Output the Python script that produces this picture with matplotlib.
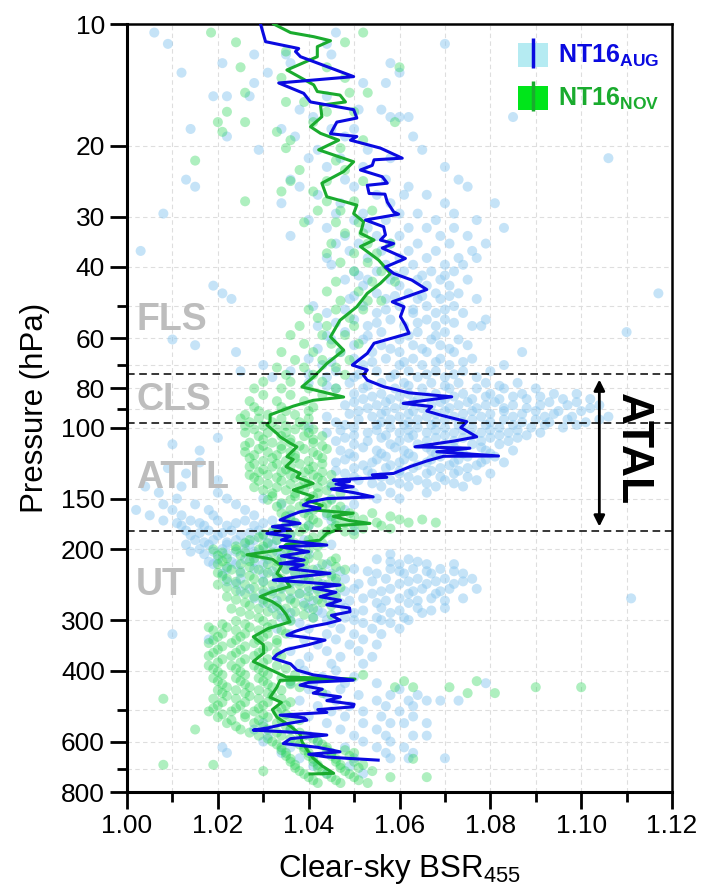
import matplotlib
matplotlib.use("Agg")
import matplotlib.pyplot as plt
from matplotlib.patches import Patch
from matplotlib.lines import Line2D
from matplotlib.legend_handler import HandlerTuple
from matplotlib.ticker import NullFormatter, FormatStrFormatter

plt.rcParams['font.family'] = ['Liberation Sans', 'DejaVu Sans']
plt.rcParams['mathtext.fontset'] = 'custom'
plt.rcParams['mathtext.rm'] = 'Liberation Sans'
plt.rcParams['mathtext.bf'] = 'Liberation Sans:bold'

# ---- mean profiles (pressure hPa, BSR) ----
aug_p = [10.0, 11.06, 11.5, 11.7, 12.05, 13.5, 14.0, 14.85, 15.6, 16.3, 17.1, 17.5, 18.7, 19.0, 19.4,
         20.3, 21.5, 21.7, 22.4, 23.0, 23.9, 24.8, 25.1, 26.3, 26.4, 27.6, 29.2, 29.6, 30.6, 31.8,
         33.3, 34.3, 35.0, 35.9, 38.1, 40.0, 41.5, 43.1, 45.5, 48.8, 50.2, 53.1, 55.7, 58.4, 61.8,
         65.5, 70, 72, 74, 76.3, 79.2, 82, 83.9, 87.1, 88.7, 91, 93.1, 96.7, 100, 105.4, 108,
         111.6, 112.5, 114.8, 117.6, 117.8, 121, 125, 129.9, 131, 132.8, 134, 135, 136, 138, 140.2,
         142, 145, 148.5, 150, 153, 155.6, 158.5, 161.7, 165, 169.4, 172.8, 176, 179, 182.9, 186,
         190, 195.5, 197.4, 203, 208, 213, 217.2, 219, 224, 229.8, 234, 238.8, 242, 245.6, 250,
         256, 262.5, 268, 275, 280, 286, 292, 300, 306, 312, 320, 326.6, 336.3, 345, 355, 365,
         373.2, 385, 399, 410, 422.7, 428, 434.8, 445, 455, 465, 475, 485, 492, 500, 508, 516,
         524, 531, 545, 555, 562, 570, 578, 590, 606.8, 620, 636, 645, 655, 660, 667]
aug_x = [1.0294, 1.0305, 1.0378, 1.0371, 1.0382, 1.0499, 1.0334, 1.0389, 1.0404, 1.0499, 1.0506, 1.0462,
         1.0448, 1.0506, 1.0492, 1.0558, 1.0606, 1.0544, 1.054, 1.0514, 1.0562, 1.0573, 1.0529, 1.0533,
         1.0568, 1.0573, 1.0587, 1.0598, 1.0525, 1.0565, 1.0569, 1.0558, 1.0587, 1.0562, 1.0613, 1.0569,
         1.0587, 1.0627, 1.066, 1.0584, 1.061, 1.0602, 1.0613, 1.0621, 1.0544, 1.0529, 1.0496, 1.0529,
         1.052, 1.0529, 1.0565, 1.062, 1.0715, 1.0608, 1.0671, 1.066, 1.069, 1.0748, 1.0735, 1.077,
         1.072, 1.0634, 1.0755, 1.0682, 1.0818, 1.0697, 1.066, 1.0623, 1.0587, 1.054, 1.0572, 1.050,
         1.0454, 1.049, 1.046, 1.0498, 1.045, 1.050, 1.0542, 1.044, 1.040, 1.0388, 1.0425, 1.0381,
         1.036, 1.0337, 1.0381, 1.032, 1.036, 1.0308, 1.036, 1.034, 1.0440, 1.0337, 1.040, 1.034,
         1.039, 1.0337, 1.0388, 1.036, 1.0447, 1.038, 1.0322, 1.040, 1.0469, 1.041, 1.046, 1.0425,
         1.047, 1.044, 1.049, 1.0491, 1.045, 1.0469, 1.044, 1.040, 1.037, 1.0352, 1.0436, 1.040,
         1.035, 1.033, 1.0322, 1.036, 1.0374, 1.041, 1.0498, 1.040, 1.0381, 1.043, 1.041, 1.047,
         1.044, 1.050, 1.0498, 1.042, 1.044, 1.0337, 1.039, 1.0396, 1.034, 1.031, 1.0278, 1.038,
         1.044, 1.036, 1.0344, 1.042, 1.0469, 1.040, 1.044, 1.0484, 1.0553]

nov_p = [10.0, 10.5, 10.75, 11.0, 11.38, 12.05, 13.0, 14.15, 14.7, 15.0, 15.6, 15.9, 16.97, 17.97, 18.66,
         19.4, 20.5, 21.95, 23.2, 24.8, 26.8, 28.1, 29.5, 30.9, 33.0, 34.3, 35.6, 38.45, 41.5, 43.9,
         46.5, 50.2, 54.2, 59.6, 64.3, 69.4, 74.9, 79.3, 84, 85.6, 88.5, 93.0, 96.7, 98.5, 103.4,
         105.4, 109.3, 111.6, 118, 120, 125, 129.9, 132.8, 137.5, 142.8, 148.2, 151.4, 156, 160, 163,
         166, 170, 172.8, 175, 178, 183, 190, 195, 201, 206.6, 212, 220, 230, 240, 247.5, 255,
         262.5, 270, 278, 290, 303, 315, 330, 345, 362, 380, 400, 415, 420, 423, 440, 466, 480,
         500, 522, 550, 575, 600, 628, 660, 690, 719, 722]
nov_x = [1.0323, 1.036, 1.0411, 1.0448, 1.0419, 1.0419, 1.0352, 1.0411, 1.0419, 1.0469, 1.0481, 1.0426,
         1.0429, 1.0404, 1.0426, 1.0466, 1.0422, 1.0499, 1.0477, 1.0429, 1.044, 1.0506, 1.0499, 1.0521,
         1.0514, 1.0544, 1.0514, 1.0554, 1.058, 1.0558, 1.0529, 1.0506, 1.0469, 1.0448, 1.0477, 1.044,
         1.0411, 1.0385, 1.0477, 1.041, 1.0366, 1.0315, 1.0315, 1.0308, 1.033, 1.0337, 1.0359, 1.0374,
         1.0352, 1.0366, 1.035, 1.0381, 1.0374, 1.041, 1.0366, 1.041, 1.0396, 1.043, 1.041, 1.0498,
         1.0454, 1.049, 1.0535, 1.046, 1.0469, 1.044, 1.0425, 1.035, 1.0337, 1.0264, 1.032, 1.034,
         1.033, 1.035, 1.0359, 1.032, 1.0293, 1.032, 1.0337, 1.035, 1.0359, 1.031, 1.0278, 1.030,
         1.0301, 1.0278, 1.032, 1.035, 1.0502, 1.0337, 1.033, 1.0315, 1.034, 1.032, 1.033, 1.036,
         1.0381, 1.0385, 1.0396, 1.041, 1.043, 1.0455, 1.0403]

# ---- individual observations: (pressure, [BSR values]) ----
aug_obs = [
    (10.5, [1.006, 1.046]), (11.2, [1.009, 1.044, 1.07]), (11.9, [1.028, 1.035, 1.045]),
    (12.5, [1.021, 1.036, 1.058]), (13.2, [1.012, 1.031, 1.06]), (14.0, [1.028, 1.052, 1.057]),
    (15.1, [1.019, 1.022, 1.027, 1.044]), (16.3, [1.038, 1.051, 1.056]),
    (17.0, [1.041, 1.058, 1.06, 1.062, 1.085]), (18.2, [1.014, 1.034, 1.045, 1.05]),
    (19.0, [1.022, 1.037, 1.048, 1.063]), (20.5, [1.029, 1.042, 1.053, 1.065]),
    (21.5, [1.04, 1.047, 1.058, 1.106]), (22.6, [1.044, 1.052, 1.07]),
    (24.3, [1.013, 1.036, 1.048, 1.057, 1.073]), (25.3, [1.015, 1.038, 1.05, 1.062, 1.075]),
    (26.5, [1.042, 1.055, 1.061, 1.066]), (27.8, [1.034, 1.047, 1.058, 1.07, 1.081]),
    (29.5, [1.008, 1.046, 1.052, 1.06, 1.064, 1.072]), (30.6, [1.04, 1.05, 1.057, 1.068, 1.077]),
    (32.0, [1.044, 1.053, 1.062, 1.066, 1.072, 1.083]), (33.5, [1.036, 1.048, 1.055, 1.06, 1.069, 1.075]),
    (35.0, [1.046, 1.051, 1.058, 1.064, 1.071, 1.079]), (36.5, [1.003, 1.049, 1.056, 1.062, 1.068, 1.076]),
    (38.0, [1.044, 1.053, 1.06, 1.066, 1.073, 1.077]), (39.5, [1.045, 1.057, 1.063, 1.07, 1.074]),
    (41.0, [1.05, 1.055, 1.061, 1.067, 1.072]), (42.0, [1.051, 1.059, 1.065, 1.07]),
    (43.0, [1.048, 1.053, 1.058, 1.064, 1.069, 1.075]),
    (44.5, [1.019, 1.052, 1.06, 1.066, 1.071]), (46.5, [1.021, 1.055, 1.062, 1.068, 1.073, 1.117]),
    (47.2, [1.05, 1.059, 1.065, 1.071]),
    (48.0, [1.023, 1.049, 1.057, 1.064, 1.069, 1.077]), (50.0, [1.041, 1.052, 1.06, 1.066, 1.072]),
    (51.0, [1.048, 1.057, 1.063, 1.07]),
    (52.0, [1.044, 1.055, 1.063, 1.068, 1.074]), (54.0, [1.05, 1.058, 1.066, 1.07, 1.079]),
    (55.0, [1.046, 1.055, 1.064, 1.072]),
    (56.0, [1.042, 1.053, 1.061, 1.068, 1.076, 1.078]), (58.0, [1.048, 1.056, 1.064, 1.07, 1.11]),
    (59.2, [1.044, 1.053, 1.062, 1.068]),
    (60.5, [1.01, 1.045, 1.052, 1.06, 1.067, 1.073]), (62.5, [1.015, 1.05, 1.056, 1.063, 1.069, 1.075]),
    (63.8, [1.042, 1.058, 1.065, 1.071]),
    (65.0, [1.024, 1.047, 1.054, 1.06, 1.066, 1.072, 1.087]),
    (67.5, [1.04, 1.05, 1.057, 1.063, 1.069, 1.076]), (68.8, [1.045, 1.054, 1.061, 1.068, 1.074]),
    (70.0, [1.03, 1.043, 1.052, 1.06, 1.065, 1.071, 1.083]),
    (72.5, [1.025, 1.036, 1.046, 1.055, 1.062, 1.068, 1.074, 1.08]),
    (73.8, [1.04, 1.051, 1.059, 1.066, 1.072]),
    (75.0, [1.032, 1.044, 1.05, 1.058, 1.064, 1.07, 1.077]),
    (77.5, [1.04, 1.049, 1.056, 1.061, 1.067, 1.073, 1.079, 1.086]),
    (78.8, [1.044, 1.053, 1.062, 1.07, 1.082]),
    (80.0, [1.046, 1.052, 1.059, 1.065, 1.071, 1.077, 1.083, 1.09]),
    (82.5, [1.05, 1.056, 1.062, 1.068, 1.074, 1.08, 1.087, 1.094, 1.099]),
    (83.8, [1.054, 1.06, 1.066, 1.072, 1.079, 1.085, 1.091]),
    (85.0, [1.052, 1.058, 1.064, 1.07, 1.076, 1.082, 1.088, 1.096, 1.102]),
    (86.5, [1.05, 1.057, 1.063, 1.069, 1.075, 1.081, 1.093, 1.099]),
    (88.0, [1.048, 1.055, 1.061, 1.067, 1.073, 1.079, 1.085, 1.091, 1.097, 1.104]),
    (89.5, [1.053, 1.059, 1.065, 1.071, 1.077, 1.083, 1.088, 1.102]),
    (91.0, [1.051, 1.057, 1.063, 1.07, 1.076, 1.083, 1.09, 1.095, 1.1]),
    (92.5, [1.049, 1.056, 1.062, 1.068, 1.074, 1.08, 1.087, 1.094]),
    (94.0, [1.044, 1.054, 1.06, 1.066, 1.072, 1.078, 1.085, 1.092, 1.098, 1.106]),
    (95.5, [1.051, 1.058, 1.064, 1.07, 1.076, 1.083, 1.09, 1.097, 1.104]),
    (97.0, [1.046, 1.056, 1.062, 1.068, 1.074, 1.08, 1.087, 1.093, 1.101]),
    (98.5, [1.048, 1.055, 1.061, 1.067, 1.073, 1.079, 1.085, 1.092, 1.099]),
    (100.0, [1.04, 1.05, 1.058, 1.064, 1.07, 1.076, 1.082, 1.089, 1.096]),
    (101.5, [1.047, 1.055, 1.062, 1.068, 1.074, 1.08, 1.086]),
    (103.0, [1.044, 1.053, 1.06, 1.066, 1.072, 1.078, 1.084, 1.091]),
    (104.5, [1.05, 1.057, 1.063, 1.07, 1.076, 1.082, 1.088]),
    (106.0, [1.02, 1.048, 1.056, 1.062, 1.068, 1.074, 1.08, 1.086]),
    (108.0, [1.046, 1.053, 1.06, 1.066, 1.072, 1.078, 1.084]),
    (110.0, [1.01, 1.05, 1.058, 1.064, 1.07, 1.076, 1.082]),
    (112.0, [1.052, 1.059, 1.066, 1.072, 1.078]),
    (114.0, [1.016, 1.047, 1.055, 1.061, 1.067, 1.073, 1.079, 1.085]),
    (116.0, [1.049, 1.056, 1.062, 1.068, 1.074, 1.08]),
    (118.0, [1.05, 1.057, 1.063, 1.069, 1.075, 1.081]),
    (120.0, [1.048, 1.055, 1.061, 1.067, 1.073, 1.079]),
    (122.0, [1.016, 1.046, 1.054, 1.06, 1.066, 1.072, 1.078, 1.083]),
    (124.0, [1.052, 1.058, 1.064, 1.071, 1.077]),
    (126.0, [1.009, 1.05, 1.057, 1.063, 1.069, 1.075]), (128.0, [1.046, 1.053, 1.06, 1.067, 1.073]),
    (130.0, [1.013, 1.048, 1.054, 1.06, 1.066, 1.072, 1.08]),
    (132.5, [1.05, 1.056, 1.062, 1.069, 1.075]),
    (135.0, [1.02, 1.051, 1.058, 1.064, 1.07, 1.077]), (137.5, [1.047, 1.054, 1.06, 1.066, 1.072]),
    (140.0, [1.004, 1.012, 1.045, 1.056, 1.062, 1.068, 1.074]),
    (145.0, [1.007, 1.02, 1.05, 1.058, 1.066]), (150.0, [1.011, 1.022, 1.03, 1.045, 1.055, 1.06]),
    (155.0, [1.008, 1.015, 1.024, 1.034, 1.05]), (160.0, [1.002, 1.01, 1.018, 1.026, 1.04, 1.048]),
    (165.0, [1.005, 1.012, 1.019, 1.028, 1.036, 1.044]), (170.0, [1.008, 1.014, 1.02, 1.026, 1.032, 1.045]),
    (172.5, [1.011, 1.016, 1.024, 1.03, 1.037]),
    (175.0, [1.012, 1.017, 1.022, 1.028, 1.035, 1.04]), (180.0, [1.013, 1.018, 1.023, 1.029, 1.034, 1.05]),
    (182.5, [1.016, 1.021, 1.027, 1.032]),
    (185.0, [1.014, 1.02, 1.025, 1.03, 1.036]), (190.0, [1.015, 1.019, 1.024, 1.028, 1.033, 1.039]),
    (192.5, [1.017, 1.022, 1.026, 1.031, 1.036]),
    (195.0, [1.013, 1.018, 1.022, 1.027, 1.032, 1.045]), (200.0, [1.016, 1.021, 1.026, 1.03, 1.036]),
    (203.0, [1.014, 1.019, 1.024, 1.028, 1.033]),
    (206.0, [1.017, 1.022, 1.028, 1.034, 1.04, 1.058]), (212.0, [1.02, 1.026, 1.031, 1.037, 1.055, 1.062]),
    (215.0, [1.018, 1.023, 1.028, 1.034, 1.058, 1.064]),
    (218.0, [1.019, 1.024, 1.03, 1.036, 1.044, 1.06, 1.066, 1.072]),
    (224.0, [1.022, 1.028, 1.035, 1.042, 1.05, 1.058, 1.063, 1.069]),
    (227.0, [1.025, 1.032, 1.039, 1.047, 1.053, 1.06, 1.066, 1.072]),
    (230.0, [1.021, 1.03, 1.037, 1.045, 1.055, 1.061, 1.067, 1.074]),
    (237.0, [1.025, 1.033, 1.04, 1.048, 1.057, 1.064, 1.07, 1.076]),
    (240.5, [1.022, 1.03, 1.038, 1.046, 1.054, 1.062, 1.068, 1.074]),
    (244.0, [1.024, 1.036, 1.043, 1.051, 1.06, 1.066, 1.072]),
    (251.0, [1.027, 1.034, 1.042, 1.05, 1.058, 1.065, 1.071, 1.077]),
    (254.5, [1.025, 1.032, 1.04, 1.048, 1.056, 1.063, 1.069]),
    (258.0, [1.03, 1.038, 1.046, 1.054, 1.062, 1.068]),
    (265.0, [1.028, 1.036, 1.044, 1.052, 1.06, 1.067, 1.074, 1.111]),
    (268.5, [1.033, 1.041, 1.049, 1.057, 1.064, 1.07]),
    (272.0, [1.03, 1.039, 1.047, 1.055, 1.062]), (280.0, [1.032, 1.04, 1.048, 1.056, 1.064, 1.07]),
    (284.0, [1.034, 1.042, 1.052, 1.06, 1.067]),
    (288.0, [1.036, 1.043, 1.05, 1.058, 1.065]), (296.0, [1.034, 1.041, 1.048, 1.055, 1.061]),
    (300.0, [1.036, 1.044, 1.05, 1.056, 1.062]),
    (305.0, [1.038, 1.045, 1.052, 1.058]), (315.0, [1.033, 1.04, 1.047, 1.054, 1.06]),
    (325.0, [1.01, 1.036, 1.044, 1.05, 1.056]), (335.0, [1.018, 1.039, 1.046, 1.052]),
    (345.0, [1.042, 1.049, 1.055]), (358.0, [1.036, 1.044, 1.051]), (370.0, [1.04, 1.047, 1.054]),
    (385.0, [1.038, 1.045, 1.052]), (400.0, [1.039, 1.046]), (415.0, [1.043, 1.05]),
    (430.0, [1.036, 1.041, 1.048, 1.055, 1.079]), (445.0, [1.04, 1.047, 1.06]),
    (460.0, [1.044, 1.051, 1.058, 1.064]), (475.0, [1.038, 1.046, 1.055, 1.062, 1.066, 1.069, 1.073]),
    (490.0, [1.042, 1.049, 1.057, 1.063]), (505.0, [1.045, 1.052, 1.06]),
    (520.0, [1.04, 1.048, 1.056, 1.063]), (540.0, [1.03, 1.044, 1.052, 1.058, 1.061, 1.066]),
    (560.0, [1.028, 1.036, 1.047, 1.055]), (580.0, [1.031, 1.04, 1.05, 1.057, 1.063, 1.066]),
    (600.0, [1.03, 1.042, 1.052, 1.058]), (620.0, [1.021, 1.036, 1.048, 1.055, 1.061]),
    (640.0, [1.022, 1.034, 1.045, 1.057, 1.063]), (660.0, [1.038, 1.05, 1.058, 1.062, 1.07]),
    (690.0, [1.041, 1.049]), (720.0, [1.044, 1.052]),
]

nov_obs = [
    (10.5, [1.0185, 1.052]), (11.1, [1.024, 1.048]), (11.7, [1.035]), (12.8, [1.025, 1.044, 1.06]),
    (13.6, [1.034, 1.048]), (14.8, [1.026, 1.049, 1.053]), (15.6, [1.035, 1.039]),
    (16.5, [1.022, 1.044, 1.05]), (17.5, [1.02, 1.026, 1.041, 1.059]), (18.5, [1.021, 1.033]),
    (19.4, [1.036, 1.052]), (20.3, [1.035, 1.047]), (21.8, [1.015, 1.046]), (23.0, [1.038, 1.048]),
    (24.5, [1.036, 1.044, 1.052]), (26.0, [1.034, 1.041]), (27.5, [1.026, 1.044, 1.05]),
    (29.0, [1.042, 1.047, 1.054]), (31.0, [1.039, 1.046, 1.051]), (33.0, [1.048, 1.052]),
    (35.0, [1.045, 1.053, 1.058]), (37.0, [1.044, 1.05, 1.055]), (39.0, [1.047, 1.053]),
    (41.0, [1.05, 1.056]), (43.5, [1.046, 1.054, 1.059]), (46.0, [1.044, 1.051]),
    (48.5, [1.047, 1.053, 1.056]), (51.0, [1.04, 1.046, 1.052]), (53.5, [1.042, 1.049]),
    (56.0, [1.038, 1.044, 1.05]), (59.0, [1.036, 1.043, 1.048]), (62.0, [1.039, 1.045, 1.051]),
    (65.0, [1.034, 1.041, 1.047]), (68.0, [1.037, 1.043, 1.049]), (71.0, [1.033, 1.039, 1.046]),
    (74.0, [1.035, 1.041, 1.048]), (77.0, [1.03, 1.036, 1.043]), (80.0, [1.028, 1.034, 1.04, 1.046]),
    (83.0, [1.03, 1.036, 1.043]), (86.0, [1.027, 1.033, 1.039]), (89.0, [1.028, 1.034, 1.041]),
    (91.0, [1.029, 1.035, 1.04]), (93.0, [1.026, 1.031, 1.037]), (95.0, [1.025, 1.029, 1.034, 1.04]),
    (97.0, [1.027, 1.032, 1.038]), (99.0, [1.026, 1.03, 1.035, 1.039]),
    (101.0, [1.028, 1.033, 1.037, 1.041]), (103.0, [1.026, 1.031, 1.035, 1.04]),
    (105.0, [1.029, 1.034, 1.039, 1.043]), (107.0, [1.03, 1.036, 1.041]),
    (109.0, [1.027, 1.032, 1.036, 1.041]), (111.0, [1.026, 1.03, 1.034, 1.038, 1.043]),
    (113.0, [1.029, 1.034, 1.039, 1.044]), (115.0, [1.026, 1.031, 1.036, 1.041]),
    (117.0, [1.028, 1.033, 1.037, 1.042]), (119.0, [1.027, 1.032, 1.037, 1.043]),
    (121.0, [1.03, 1.035, 1.04]), (123.0, [1.028, 1.033, 1.038, 1.043]),
    (125.0, [1.027, 1.032, 1.036, 1.041]), (127.0, [1.03, 1.035, 1.04]),
    (129.0, [1.029, 1.034, 1.039, 1.043]), (131.0, [1.027, 1.031, 1.036, 1.041, 1.045]),
    (133.0, [1.028, 1.033, 1.037, 1.042]), (135.5, [1.029, 1.034, 1.039, 1.043]),
    (138.0, [1.031, 1.036, 1.04, 1.045]), (140.5, [1.028, 1.033, 1.038, 1.042]),
    (143.0, [1.03, 1.035, 1.039, 1.044]), (145.5, [1.032, 1.037, 1.042, 1.047]),
    (148.0, [1.032, 1.037, 1.041]), (151.0, [1.031, 1.036, 1.04, 1.045]),
    (154.0, [1.034, 1.039, 1.044]), (157.0, [1.033, 1.038, 1.043, 1.047]),
    (160.0, [1.036, 1.041, 1.046]), (163.0, [1.034, 1.039, 1.044, 1.049, 1.054]),
    (166.0, [1.035, 1.04, 1.045, 1.05, 1.058]), (169.0, [1.036, 1.041, 1.046, 1.052, 1.06, 1.065]),
    (172.0, [1.037, 1.042, 1.048, 1.055, 1.062, 1.068]), (175.0, [1.035, 1.04, 1.046, 1.05, 1.056]),
    (178.0, [1.033, 1.039, 1.045, 1.052, 1.058]), (181.0, [1.032, 1.038, 1.044, 1.048]),
    (184.0, [1.03, 1.036, 1.043, 1.05]), (187.0, [1.029, 1.035, 1.041]),
    (190.0, [1.027, 1.033, 1.04]), (193.5, [1.026, 1.031, 1.037, 1.043]),
    (197.0, [1.024, 1.03, 1.036, 1.042]), (200.5, [1.019, 1.024, 1.029, 1.035, 1.04]),
    (204.0, [1.021, 1.026, 1.032, 1.038]), (207.5, [1.02, 1.025, 1.03, 1.036, 1.042]),
    (211.0, [1.022, 1.028, 1.034, 1.04, 1.046]), (214.5, [1.021, 1.027, 1.033, 1.039, 1.045]),
    (218.0, [1.02, 1.025, 1.031, 1.037, 1.043]), (221.5, [1.022, 1.027, 1.033, 1.039, 1.046]),
    (225.0, [1.023, 1.029, 1.035, 1.041, 1.048]), (229.0, [1.02, 1.025, 1.031, 1.037, 1.043]),
    (233.0, [1.021, 1.027, 1.033, 1.039, 1.045]), (237.0, [1.022, 1.028, 1.034, 1.04, 1.046]),
    (241.0, [1.024, 1.03, 1.036, 1.042]), (245.0, [1.02, 1.026, 1.032, 1.038, 1.044]),
    (249.0, [1.022, 1.028, 1.034, 1.04, 1.047]), (253.5, [1.024, 1.03, 1.036, 1.042]),
    (258.0, [1.026, 1.032, 1.038, 1.044]), (262.5, [1.022, 1.028, 1.034, 1.04, 1.046]),
    (267.0, [1.024, 1.03, 1.036, 1.042]), (271.5, [1.026, 1.031, 1.037, 1.043]),
    (276.0, [1.027, 1.033, 1.039, 1.045]), (281.0, [1.023, 1.029, 1.035, 1.041]),
    (286.0, [1.025, 1.031, 1.037]), (291.0, [1.027, 1.033, 1.039, 1.045]),
    (296.0, [1.029, 1.035, 1.041]), (301.5, [1.024, 1.03, 1.036]), (307.0, [1.021, 1.026, 1.032]),
    (312.5, [1.018, 1.022, 1.027, 1.031]), (318.0, [1.019, 1.024, 1.029, 1.034]),
    (324.0, [1.021, 1.026, 1.031, 1.035]), (330.0, [1.02, 1.025, 1.03]),
    (336.0, [1.019, 1.024, 1.029, 1.033]), (342.0, [1.018, 1.023, 1.028, 1.033]),
    (348.5, [1.021, 1.026, 1.031]), (355.0, [1.02, 1.025, 1.03]),
    (361.5, [1.019, 1.024, 1.029, 1.033]), (368.0, [1.018, 1.023, 1.028, 1.034]),
    (375.0, [1.021, 1.026, 1.031]), (382.0, [1.02, 1.025, 1.03]),
    (389.0, [1.018, 1.023, 1.028, 1.033]), (396.0, [1.019, 1.024, 1.029, 1.035]),
    (403.0, [1.02, 1.025, 1.03]), (410.0, [1.021, 1.026, 1.031, 1.037, 1.052]),
    (417.5, [1.019, 1.024, 1.029, 1.034]), (425.0, [1.02, 1.025, 1.03, 1.036, 1.061, 1.077]),
    (432.5, [1.021, 1.026, 1.031, 1.036]),
    (440.0, [1.022, 1.027, 1.032, 1.038, 1.059, 1.063, 1.071, 1.09, 1.1]),
    (447.5, [1.02, 1.024, 1.029, 1.034]),
    (455.0, [1.021, 1.026, 1.031, 1.043, 1.075, 1.081]), (462.5, [1.022, 1.027, 1.032]),
    (470.0, [1.008, 1.019, 1.024, 1.029, 1.034]), (479.0, [1.021, 1.026, 1.031, 1.036]),
    (488.0, [1.02, 1.025, 1.03, 1.035]), (496.5, [1.019, 1.024, 1.029, 1.034]),
    (505.0, [1.018, 1.023, 1.028, 1.033]), (513.5, [1.021, 1.026, 1.03, 1.035]),
    (522.0, [1.02, 1.026, 1.031, 1.036]), (531.0, [1.023, 1.029, 1.034, 1.038]),
    (540.0, [1.022, 1.028, 1.033]), (550.0, [1.024, 1.03, 1.035]),
    (560.0, [1.015, 1.025, 1.031, 1.036]), (570.0, [1.027, 1.033, 1.038]),
    (580.0, [1.029, 1.034, 1.039]), (590.0, [1.031, 1.036, 1.041]),
    (600.0, [1.032, 1.037, 1.042]), (610.0, [1.033, 1.038, 1.043]),
    (620.0, [1.034, 1.039, 1.044]), (630.0, [1.034, 1.039, 1.044, 1.048]),
    (640.0, [1.035, 1.04, 1.045, 1.05]), (651.0, [1.035, 1.04, 1.045, 1.049]),
    (662.0, [1.036, 1.041, 1.046, 1.063]), (673.0, [1.036, 1.041, 1.046, 1.05]),
    (685.0, [1.008, 1.019, 1.037, 1.042, 1.047, 1.052]), (697.0, [1.037, 1.042, 1.047, 1.051]),
    (710.0, [1.03, 1.038, 1.043, 1.048, 1.054]), (722.0, [1.039, 1.044, 1.049]),
    (735.0, [1.04, 1.045, 1.05, 1.058, 1.066]), (748.0, [1.041, 1.046, 1.051]),
    (760.0, [1.042, 1.047, 1.053]),
]

layer_bounds = [73.5, 97.5, 180]
layer_names = ['FLS', 'CLS', 'ATTL', 'UT']
layer_label_p = [54, 85.6, 133, 246]

y_major = [10, 20, 30, 40, 60, 80, 100, 150, 200, 300, 400, 600, 800]
y_minor = [50, 70, 90, 500, 700]


def flatten(obs):
    xs, ps = [], []
    for p, vals in obs:
        for v in vals:
            xs.append(v)
            ps.append(p)
    return xs, ps


fig = plt.figure(figsize=(7.03, 8.93), dpi=100)
ax = fig.add_axes([0.1807, 0.1131, 0.7752, 0.8600])

a_x, a_p = flatten(aug_obs)
n_x, n_p = flatten(nov_obs)
ax.scatter(a_x, a_p, s=52, color='#8cc8f0', alpha=0.5, edgecolors='none', zorder=2)
ax.scatter(n_x, n_p, s=52, color='#1fd34f', alpha=0.36, edgecolors='none', zorder=2)

ax.plot(aug_x, aug_p, color='#0a0ae0', lw=2.2, zorder=4)
ax.plot(nov_x, nov_p, color='#1aab2e', lw=2.2, zorder=3)

for b in layer_bounds:
    ax.axhline(b, color='black', ls=(0, (5, 3)), lw=1.1, zorder=5)

for name, p in zip(layer_names, layer_label_p):
    ax.text(1.002, p, name, color='#bdbdbd', fontsize=27, fontweight='bold',
            ha='left', va='center', zorder=6)

ax.annotate('', xy=(1.104, 76), xytext=(1.104, 176),
            arrowprops=dict(arrowstyle='<|-|>', color='black', lw=2,
                            mutation_scale=16, shrinkA=0, shrinkB=0), zorder=6)
ax.text(1.1112, 113, 'ATAL', rotation=270, fontsize=32, fontweight='bold',
        ha='center', va='center', zorder=6)

ax.set_yscale('log')
ax.set_ylim(800, 10)
ax.set_xlim(1.00, 1.12)
ax.set_yticks(y_major, labels=[str(v) for v in y_major])
ax.set_yticks(y_minor, minor=True)
ax.yaxis.set_minor_formatter(NullFormatter())
ax.set_xticks([1.00, 1.02, 1.04, 1.06, 1.08, 1.10, 1.12])
ax.set_xticks([1.01, 1.03, 1.05, 1.07, 1.09, 1.11], minor=True)
ax.xaxis.set_major_formatter(FormatStrFormatter('%.2f'))

ax.grid(True, which='both', ls=(0, (4, 3)), color='#dedede', lw=0.8, zorder=0)
ax.set_axisbelow(True)
ax.tick_params(which='major', direction='out', length=12, width=2, labelsize=19, pad=4)
ax.tick_params(which='minor', direction='out', length=7, width=2)
for side in ['left', 'bottom']:
    ax.spines[side].set_linewidth(2.2)
for side in ['top', 'right']:
    ax.spines[side].set_linewidth(1.8)

ax.set_ylabel('Pressure (hPa)', fontsize=22.5, labelpad=8)
ax.set_xlabel('Clear-sky BSR$_{455}$', fontsize=22.5, labelpad=10)

h_aug = (Patch(facecolor='#b5ebf2', edgecolor='none'),
         Line2D([], [], color='#0a0ae0', marker='|', ls='none', ms=21, mew=2.5))
h_nov = (Patch(facecolor='#00e51a', edgecolor='none'),
         Line2D([], [], color='#1aab2e', marker='|', ls='none', ms=21, mew=2.5))
leg = ax.legend([h_aug, h_nov], [r'NT16$_{\mathbf{AUG}}$', r'NT16$_{\mathbf{NOV}}$'],
                handler_map={tuple: HandlerTuple(ndivide=1)}, loc='upper right',
                bbox_to_anchor=(1.0, 0.992),
                frameon=False, prop={'weight': 'bold', 'size': 18},
                handlelength=1.2, handleheight=1.1, handletextpad=0.4,
                labelspacing=0.65, borderaxespad=0.1)
leg.get_texts()[0].set_color('#0a0ae0')
leg.get_texts()[1].set_color('#1aab2e')

fig.savefig('out.png', dpi=100)
